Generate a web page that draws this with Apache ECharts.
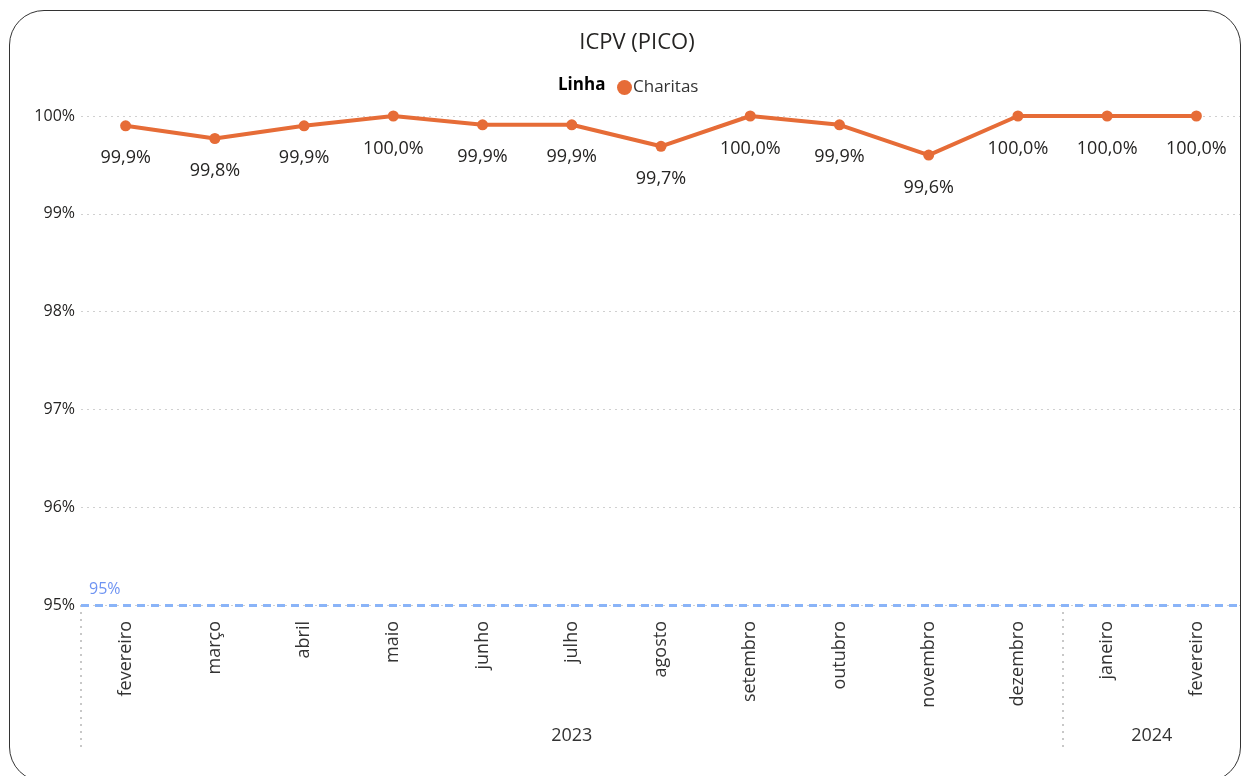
<!DOCTYPE html>
<html>
<head>
<meta charset="utf-8">
<script src="https://cdn.jsdelivr.net/npm/echarts@6/dist/echarts.min.js"></script>
<style>
  html, body { margin: 0; padding: 0; background: #fff; overflow: hidden; }
  #chart { width: 1241px; height: 776px; }
  .frame {
    position: absolute;
    left: 9px; top: 10px;
    width: 1230px; height: 770px;
    border: 1.5px solid #333;
    border-radius: 35px;
    pointer-events: none;
  }
</style>
</head>
<body>
<div id="chart"></div>
<div class="frame"></div>
<script>
// dados
const months = ['fevereiro', 'março', 'abril', 'maio', 'junho', 'julho', 'agosto',
  'setembro', 'outubro', 'novembro', 'dezembro', 'janeiro', 'fevereiro'];
const charitas = [99.9, 99.77, 99.9, 100.0, 99.91, 99.91, 99.69, 100.0, 99.91, 99.6, 100.0, 100.0, 100.0];
const years = ['2023', '2024'];
const yearStart = [0, 11]; // índice do primeiro mês de cada ano
const yearCount = [11, 2];
const yTicks = [95, 96, 97, 98, 99, 100];
const meta = 95;

const fmtPct = (v) => v.toFixed(1).replace('.', ',') + '%';
const yearCenters = years.map((y, i) => yearStart[i] + yearCount[i] / 2);

const chart = echarts.init(document.getElementById('chart'));
chart.setOption({
  animation: false,
  textStyle: { fontFamily: 'Open Sans' },
  title: [
    {
      text: 'ICPV (PICO)',
      left: 632,
      top: 27,
      textAlign: 'center',
      textStyle: { fontSize: 22, fontWeight: 'normal', color: '#252423', fontFamily: 'Open Sans' },
    },
    {
      text: 'Linha',
      left: 553,
      top: 72,
      textStyle: { fontSize: 17, fontWeight: 'bold', color: '#000', fontFamily: 'Open Sans' },
    },
  ],
  legend: {
    left: 612,
    top: 74,
    icon: 'circle',
    itemWidth: 15,
    itemHeight: 15,
    itemGap: 4,
    textStyle: { fontSize: 17, color: '#333', padding: [0, 0, 0, -4] },
    data: ['Charitas'],
  },
  grid: { left: 81, right: 0, top: 116, bottom: 171 },
  xAxis: [
    {
      type: 'category',
      data: months,
      boundaryGap: true,
      axisLine: { show: false },
      axisTick: { show: false },
      axisLabel: { rotate: 90, fontSize: 18, color: '#333', margin: 16, interval: 0 },
    },
    {
      type: 'value',
      position: 'bottom',
      min: 0,
      max: months.length,
      axisLine: { show: false },
      splitLine: { show: false },
      axisTick: {
        show: true,
        customValues: yearStart,
        length: 145,
        lineStyle: { color: '#c8c8c8', type: [2, 5], width: 2 },
      },
      axisLabel: {
        customValues: yearCenters,
        margin: 122,
        fontSize: 18,
        color: '#333',
        formatter: (v) => {
          const i = yearCenters.indexOf(v);
          return i >= 0 ? years[i] : '';
        },
      },
    },
  ],
  yAxis: {
    type: 'value',
    min: yTicks[0],
    max: yTicks[yTicks.length - 1],
    interval: 1,
    axisLine: { show: false },
    axisTick: { show: false },
    axisLabel: { formatter: '{value}%', fontSize: 16, color: '#252423', margin: 6 },
    splitLine: { lineStyle: { color: '#d0d0d0', type: [2, 4], width: 1 } },
  },
  series: [
    {
      name: 'Charitas',
      type: 'line',
      data: charitas,
      color: '#E66C37',
      symbol: 'circle',
      symbolSize: 11,
      lineStyle: { width: 4, color: '#E66C37' },
      itemStyle: { color: '#E66C37' },
      label: {
        show: true,
        position: 'bottom',
        distance: 18,
        fontSize: 18,
        color: '#252423',
        formatter: (p) => fmtPct(p.value),
      },
      markLine: {
        silent: true,
        symbol: 'none',
        data: [{ yAxis: meta }],
        lineStyle: { color: '#8AB4F8', type: [8, 6], width: 3 },
        label: {
          position: 'insideStartTop',
          formatter: meta + '%',
          color: '#6E93F2',
          fontSize: 16,
          distance: [8, 8],
        },
      },
    },
  ],
});
</script>
</body>
</html>
